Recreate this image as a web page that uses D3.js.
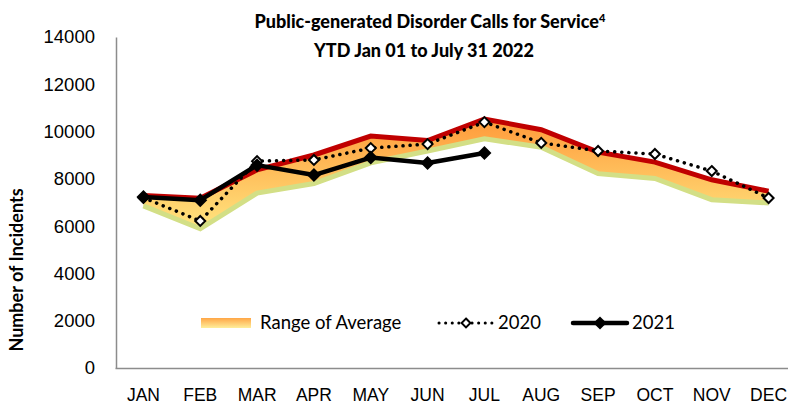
<!DOCTYPE html>
<html>
<head>
<meta charset="utf-8">
<script src="https://cdn.jsdelivr.net/npm/d3@7"></script>
<style>
  body { margin: 0; background: #fff; }
  svg { font-family: Lato, "Open Sans", sans-serif; }
</style>
</head>
<body>
<div id="chart"></div>
<script>
// months on the category axis
var months = ["JAN", "FEB", "MAR", "APR", "MAY", "JUN", "JUL", "AUG", "SEP", "OCT", "NOV", "DEC"];

// range of average (upper / lower edge)
var rangeHigh = [7300, 7180, 8380, 9010, 9810, 9620, 10530, 10080, 9130, 8710, 7960, 7480];
var rangeLow  = [6860, 5890, 7400, 7800, 8680, 9180, 9690, 9340, 8220, 8020, 7120, 6980];

// 2020 and 2021 (2021 only up to JUL)
var y2020 = [7200, 6220, 8750, 8800, 9300, 9470, 10400, 9520, 9180, 9050, 8330, 7190];
var y2021 = [7230, 7100, 8580, 8160, 8900, 8670, 9090];

var yTicks = [0, 2000, 4000, 6000, 8000, 10000, 12000, 14000];

var width = 788, height = 407;
var margin = {top: 37, right: -9, bottom: 39, left: 116};

var svg = d3.select("#chart").append("svg")
    .attr("width", width)
    .attr("height", height);

var defs = svg.append("defs");
var grad = defs.append("linearGradient")
    .attr("id", "rangeFill")
    .attr("x1", 0).attr("y1", 0).attr("x2", 0).attr("y2", 1);
grad.append("stop").attr("offset", "0%").attr("stop-color", "#ff9a3a");
grad.append("stop").attr("offset", "100%").attr("stop-color", "#ffe57f");

var legGrad = defs.append("linearGradient")
    .attr("id", "legendFill")
    .attr("x1", 0).attr("y1", 0).attr("x2", 0).attr("y2", 1);
legGrad.append("stop").attr("offset", "0%").attr("stop-color", "#ffa646");
legGrad.append("stop").attr("offset", "100%").attr("stop-color", "#ffee9a");

// scales
var x = d3.scaleBand()
    .domain(months)
    .range([margin.left - 1, width - margin.right])
    .padding(0);
var cx = function(d) { return x(d) + x.bandwidth() / 2; };

var y = d3.scaleLinear()
    .domain([0, 14000])
    .range([height - margin.bottom, margin.top]);

// axes
var yAxis = svg.append("g")
    .attr("transform", "translate(" + margin.left + ",0)")
    .call(d3.axisLeft(y).tickValues(yTicks).tickSize(0).tickPadding(21).tickFormat(d3.format("d")));
yAxis.select(".domain").attr("stroke", "#8c8c8c").attr("stroke-width", 1.5);
yAxis.selectAll("text").attr("font-size", 18.5).attr("fill", "#000");

var xAxis = svg.append("g")
    .attr("transform", "translate(0," + y(0) + ")")
    .call(d3.axisBottom(x).tickSize(0).tickPadding(21));
xAxis.select(".domain").attr("stroke", "#8c8c8c").attr("stroke-width", 1.5);
xAxis.selectAll("text").attr("font-size", 17.5).attr("fill", "#000");

// range of average band
var band = months.map(function(m, i) { return {m: m, hi: rangeHigh[i], lo: rangeLow[i]}; });

svg.append("path")
    .datum(band)
    .attr("fill", "url(#rangeFill)")
    .attr("d", d3.area()
        .x(function(d) { return cx(d.m); })
        .y0(function(d) { return y(d.lo); })
        .y1(function(d) { return y(d.hi); }));

svg.append("path")
    .datum(band)
    .attr("fill", "none")
    .attr("stroke", "#d3df86")
    .attr("stroke-width", 5)
    .attr("d", d3.line()
        .x(function(d) { return cx(d.m); })
        .y(function(d) { return y(d.lo); }));

svg.append("path")
    .datum(band)
    .attr("fill", "none")
    .attr("stroke", "#c00000")
    .attr("stroke-width", 5)
    .attr("d", d3.line()
        .x(function(d) { return cx(d.m); })
        .y(function(d) { return y(d.hi); }));

// 2020 dotted line with open diamonds
var data2020 = months.map(function(m, i) { return {m: m, v: y2020[i]}; });
var diamond = d3.symbol().type(d3.symbolDiamond2);

svg.append("path")
    .datum(data2020)
    .attr("fill", "none")
    .attr("stroke", "#000")
    .attr("stroke-width", 3.5)
    .attr("stroke-linecap", "round")
    .attr("stroke-dasharray", "0.1 7")
    .attr("d", d3.line()
        .x(function(d) { return cx(d.m); })
        .y(function(d) { return y(d.v); }));

svg.selectAll(".m2020")
    .data(data2020)
    .enter().append("path")
    .attr("class", "m2020")
    .attr("transform", function(d) { return "translate(" + cx(d.m) + "," + y(d.v) + ")"; })
    .attr("d", diamond.size(64))
    .attr("fill", "#fff")
    .attr("stroke", "#000")
    .attr("stroke-width", 2);

// 2021 solid line with filled diamonds
var data2021 = y2021.map(function(v, i) { return {m: months[i], v: v}; });

svg.append("path")
    .datum(data2021)
    .attr("fill", "none")
    .attr("stroke", "#000")
    .attr("stroke-width", 4.5)
    .attr("stroke-linejoin", "round")
    .attr("d", d3.line()
        .x(function(d) { return cx(d.m); })
        .y(function(d) { return y(d.v); }));

svg.selectAll(".m2021")
    .data(data2021)
    .enter().append("path")
    .attr("class", "m2021")
    .attr("transform", function(d) { return "translate(" + cx(d.m) + "," + y(d.v) + ")"; })
    .attr("d", diamond.size(125))
    .attr("fill", "#000");

// title
var title = svg.append("text")
    .attr("text-anchor", "middle")
    .attr("font-weight", 900)
    .attr("font-size", 18);
var t1 = title.append("tspan").attr("x", 430).attr("y", 28).text("Public-generated Disorder Calls for Service");
t1.append("tspan").attr("font-size", 11).attr("dy", -6).text("4");
title.append("tspan").attr("x", 424).attr("y", 57).text("YTD Jan 01 to July 31 2022");

// y axis label
svg.append("text")
    .attr("transform", "translate(23,270) rotate(-90)")
    .attr("text-anchor", "middle")
    .attr("font-weight", "bold")
    .attr("font-size", 18)
    .text("Number of Incidents");

// legend
var leg = svg.append("g");
leg.append("rect")
    .attr("x", 201).attr("y", 318).attr("width", 50).attr("height", 10)
    .attr("fill", "url(#legendFill)");
leg.append("text").attr("x", 260).attr("y", 329).attr("font-size", 18.5).text("Range of Average");

leg.append("line")
    .attr("x1", 439).attr("x2", 493).attr("y1", 323).attr("y2", 323)
    .attr("stroke", "#000").attr("stroke-width", 3).attr("stroke-linecap", "round")
    .attr("stroke-dasharray", "0.1 6.5");
leg.append("path")
    .attr("transform", "translate(466,323)")
    .attr("d", diamond.size(50))
    .attr("fill", "#fff").attr("stroke", "#000").attr("stroke-width", 2);
leg.append("text").attr("x", 498).attr("y", 329).attr("font-size", 18.5).text("2020");

leg.append("line")
    .attr("x1", 573).attr("x2", 627).attr("y1", 323).attr("y2", 323)
    .attr("stroke", "#000").attr("stroke-width", 4.5).attr("stroke-linecap", "round");
leg.append("path")
    .attr("transform", "translate(600,323)")
    .attr("d", diamond.size(110))
    .attr("fill", "#000");
leg.append("text").attr("x", 632).attr("y", 329).attr("font-size", 18.5).text("2021");
</script>
</body>
</html>
